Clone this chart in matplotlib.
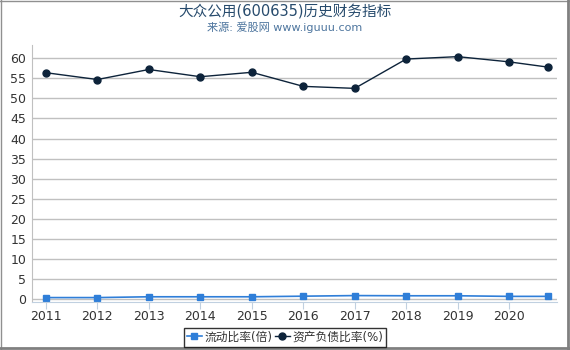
import matplotlib
matplotlib.use("Agg")
from matplotlib import pyplot as plt
from matplotlib.lines import Line2D

plt.rcParams['font.family'] = ['DejaVu Sans', 'Noto Sans CJK SC']

years = [2011, 2012, 2013, 2014, 2015, 2016, 2017, 2018, 2019, 2020, 2020.75]
current_ratio = [0.4, 0.4, 0.6, 0.6, 0.6, 0.75, 0.9, 0.85, 0.85, 0.7, 0.7]
debt_ratio = [56.4, 54.7, 57.2, 55.4, 56.5, 53.0, 52.5, 59.8, 60.4, 59.1, 57.8]
xticks = [2011, 2012, 2013, 2014, 2015, 2016, 2017, 2018, 2019, 2020]
yticks = list(range(0, 61, 5))

W, H = 570, 350
fig = plt.figure(figsize=(5.7, 3.5), dpi=100)
ax = fig.add_axes([32 / W, 48 / H, 525 / W, 257 / H])

ax.plot(years, current_ratio, color='#2f7ed8', lw=1.2, marker='s', markersize=5,
        label='流动比率(倍)')
ax.plot(years, debt_ratio, color='#0d233a', lw=1, marker='o', markersize=5,
        label='资产负债比率(%)')

ax.set_xlim(2010.73, 2020.93)
ax.set_ylim(-0.7, 63.3)
ax.set_xticks(xticks)
ax.set_yticks(yticks)
ax.tick_params(axis='both', labelsize=9, colors='#333333')
ax.tick_params(axis='y', length=0, pad=4)
ax.tick_params(axis='x', length=5, color='#c0d0e0', pad=1)
ax.grid(axis='y', color='#c0c0c0', lw=1)
ax.set_axisbelow(True)
for s in ['top', 'right']:
    ax.spines[s].set_visible(False)
ax.spines['left'].set_color('#c0c0c0')
ax.spines['bottom'].set_color('#c0d0e0')

fig.text(0.5, 0.968, '大众公用(600635)历史财务指标', ha='center', va='center',
         fontsize=10.5, color='#274b6d')
fig.text(0.5, 0.922, '来源: 爱股网 www.iguuu.com', ha='center', va='center',
         fontsize=8, color='#4d759e')

leg = fig.legend(loc='center', bbox_to_anchor=(0.5, 0.037), ncol=2, fontsize=8.5,
                 frameon=True, fancybox=False, handlelength=1.3, columnspacing=0.2,
                 handletextpad=0.2, borderpad=0.25, borderaxespad=0)
leg.get_frame().set_edgecolor('#000000')
leg.get_frame().set_linewidth(1)
for t in leg.get_texts():
    t.set_color('#333333')

# outer frame: thin on top/left, heavier on right/bottom
fig.add_artist(Line2D([0.5 / W, 0.5 / W], [0, 1], transform=fig.transFigure,
                      color='#909090', lw=1))
fig.add_artist(Line2D([0, 1], [1 - 0.5 / H, 1 - 0.5 / H], transform=fig.transFigure,
                      color='#909090', lw=1))
fig.add_artist(Line2D([567.5 / W, 567.5 / W], [0, 1], transform=fig.transFigure,
                      color='#808080', lw=2))
fig.add_artist(Line2D([0, 568.5 / W], [2.5 / H, 2.5 / H], transform=fig.transFigure,
                      color='#808080', lw=2))

fig.savefig('out.png', dpi=100)
